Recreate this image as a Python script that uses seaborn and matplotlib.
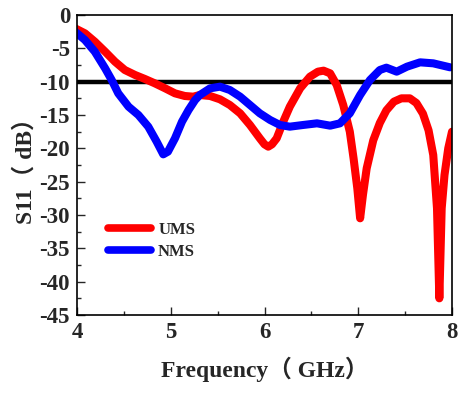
import numpy as np
import pandas as pd
import matplotlib
matplotlib.use("Agg")
import matplotlib.pyplot as plt
import seaborn as sns

# UMS (red) curve
ums_f = [3.98, 4.085, 4.19, 4.30, 4.405, 4.51, 4.62, 4.725, 4.83, 4.94, 5.045, 5.15, 5.24, 5.31, 5.42,
         5.525, 5.63, 5.74, 5.845, 5.95, 6.00, 6.04, 6.08, 6.13, 6.20, 6.27, 6.38, 6.485, 6.57, 6.63,
         6.70, 6.77, 6.84, 6.91, 6.95, 6.99, 7.02, 7.05, 7.09, 7.16, 7.23, 7.30, 7.38, 7.46, 7.55,
         7.62, 7.69, 7.75, 7.80, 7.84, 7.865, 7.89, 7.92, 7.96, 8.0]
ums_db = [-2.0, -2.75, -4.0, -5.5, -7.0, -8.25, -9.0, -9.6, -10.25, -11.0, -11.75, -12.15, -12.25, -12.0, -12.15,
          -12.65, -13.5, -14.75, -16.5, -18.5, -19.4, -19.75, -19.4, -18.5, -16.0, -13.75, -11.0, -9.25, -8.5, -8.35,
          -8.75, -10.5, -13.5, -17.5, -21.5, -26.0, -30.5, -27.0, -23.0, -18.8, -16.2, -14.3, -13.0, -12.5, -12.5,
          -13.2, -14.8, -17.3, -21.0, -29.0, -42.5, -29.0, -24.0, -20.0, -17.5]

# NMS (blue) curve
nms_f = [3.98, 4.085, 4.19, 4.30, 4.37, 4.44, 4.55, 4.655, 4.76, 4.85, 4.92, 4.97, 5.045, 5.12, 5.19,
         5.26, 5.31, 5.42, 5.525, 5.63, 5.74, 5.845, 5.95, 6.06, 6.165, 6.27, 6.41, 6.56, 6.70, 6.805,
         6.91, 7.02, 7.125, 7.23, 7.30, 7.41, 7.52, 7.66, 7.80, 7.98]
nms_db = [-2.5, -3.75, -5.5, -8.0, -9.75, -11.75, -13.75, -15.0, -16.75, -19.0, -20.9, -20.5, -18.5, -16.0, -14.25,
          -12.75, -12.0, -11.0, -10.75, -11.25, -12.25, -13.5, -14.75, -15.75, -16.5, -16.75, -16.5, -16.25, -16.6, -16.25,
          -14.75, -12.0, -9.75, -8.25, -7.9, -8.5, -7.75, -7.1, -7.25, -7.85]

ref_level = -10
x_ticks = [4, 5, 6, 7, 8]
y_ticks = [0, -5, -10, -15, -20, -25, -30, -35, -40, -45]

df = pd.concat([
    pd.DataFrame({"Frequency": ums_f, "S11": ums_db, "Sample": "UMS"}),
    pd.DataFrame({"Frequency": nms_f, "S11": nms_db, "Sample": "NMS"}),
], ignore_index=True)

sns.set_style("ticks")
plt.rcParams['font.family'] = ['Liberation Serif', 'Noto Sans CJK SC', 'DejaVu Sans']
plt.rcParams['font.weight'] = 'bold'
plt.rcParams['axes.unicode_minus'] = False

fig = plt.figure(figsize=(4.67, 3.93), dpi=100)
ax = fig.add_axes([77/467, 78/393, 375/467, 300/393])

ax.axhline(ref_level, color='black', lw=3.2, zorder=1)
sns.lineplot(data=df, x="Frequency", y="S11", hue="Sample", palette={"UMS": "#ff0000", "NMS": "#0000ff"},
             linewidth=5.8, ax=ax, sort=False, estimator=None)
for ln in ax.get_lines():
    ln.set_solid_joinstyle('round')
    ln.set_solid_capstyle('round')

ax.set_xlim(4, 8)
ax.set_ylim(-45, 0)
ax.set_xticks(x_ticks)
ax.set_yticks(y_ticks)
ax.set_xticks(np.arange(4.5, 8, 1), minor=True)
ax.set_yticks(np.arange(-42.5, 0, 5), minor=True)
ax.tick_params(axis='both', which='major', direction='in', length=6, width=1, labelsize=16.5, pad=5,
               top=False, right=False)
ax.tick_params(axis='both', which='minor', direction='in', length=3, width=1, top=False, right=False)
for lab in ax.get_xticklabels() + ax.get_yticklabels():
    lab.set_fontweight('bold')
for s in ax.spines.values():
    s.set_linewidth(1.2)
    s.set_color('black')

ax.set_xlabel("Frequency（ GHz）", fontsize=17, fontweight='bold', labelpad=10)
ax.set_ylabel("S11（ dB）", fontsize=17, fontweight='bold', labelpad=2)

leg = ax.legend(loc='center left', bbox_to_anchor=(0.083, 0.248), frameon=False, fontsize=12,
                handlelength=2.6, handletextpad=0.4, labelspacing=0.35, borderpad=0, borderaxespad=0)
for t in leg.get_texts():
    t.set_fontweight('bold')
for l in leg.get_lines():
    l.set_linewidth(5.5)

fig.savefig("out.png", dpi=100)
